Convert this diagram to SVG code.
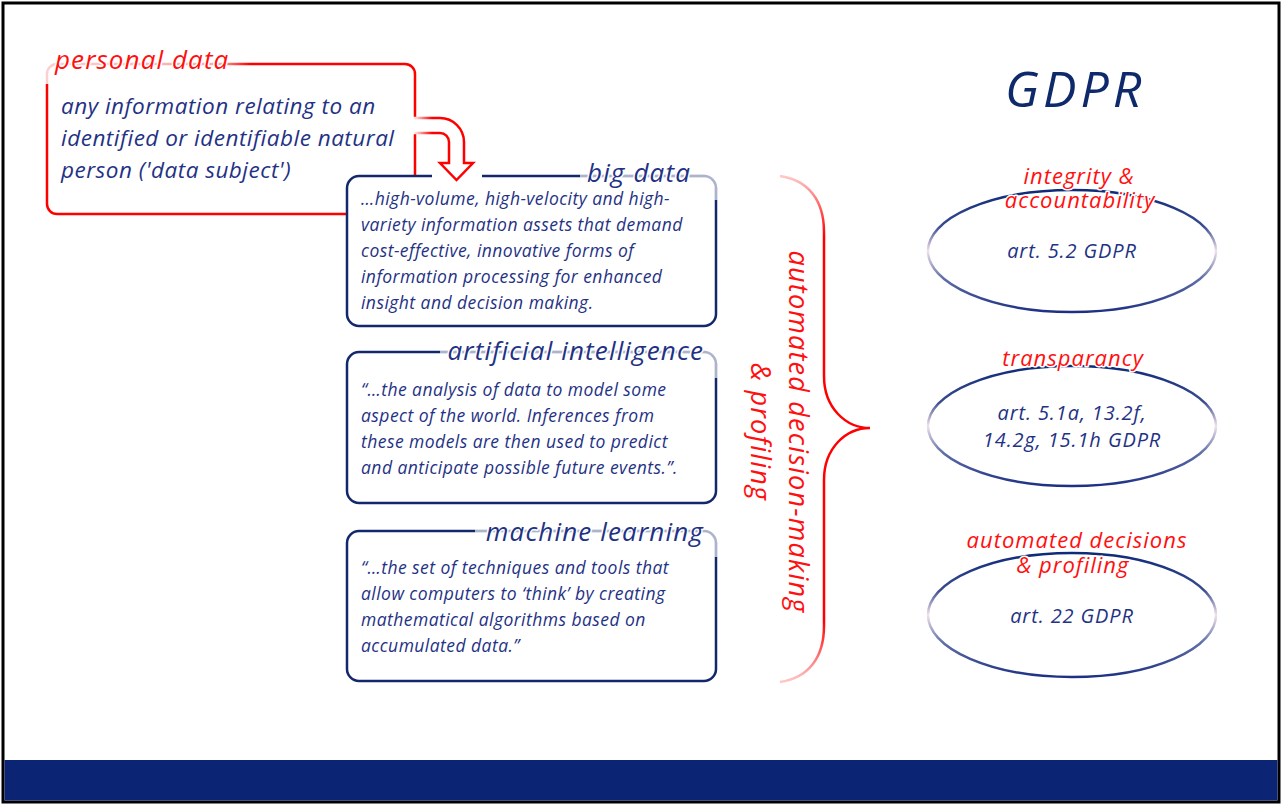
<svg xmlns="http://www.w3.org/2000/svg" width="1282" height="805" viewBox="0 0 1282 805">
<defs>
<style>
text{font-family:"Open Sans","Noto Sans","DejaVu Sans",sans-serif;font-style:italic}
.body{fill:#1f3284;font-size:17.5px;letter-spacing:0.45px}
.pbody{fill:#1f3284;font-size:22.5px;letter-spacing:0.5px}
.ttl{fill:#1f3284;font-size:26px;letter-spacing:1.15px;stroke:#fff;stroke-width:3;paint-order:stroke;stroke-linejoin:round}
.rttl{fill:#ff1010;font-size:26px;letter-spacing:1.1px;stroke:#fff;stroke-width:3;paint-order:stroke;stroke-linejoin:round}
.box{fill:#fff;stroke:#13286c;stroke-width:2.5}
.fade{fill:none;stroke:#fff;stroke-width:3.5;stroke-opacity:0.65}
.elab{fill:#ff1010;font-size:22px;letter-spacing:1px;text-anchor:middle;stroke:#fff;stroke-width:3;paint-order:stroke;stroke-linejoin:round}
.eart{fill:#1f3284;font-size:20px;letter-spacing:0.9px;text-anchor:middle}
.ell{fill:none;stroke:url(#eg);stroke-width:2.5}
.vt{fill:#ff1010;font-size:27px;letter-spacing:1.2px;text-anchor:middle}
</style>
<linearGradient id="eg" x1="0" y1="0" x2="0" y2="1">
<stop offset="0" stop-color="#0e2a78"/>
<stop offset="0.3" stop-color="#3a4c90"/>
<stop offset="0.5" stop-color="#f2e2ea"/>
<stop offset="0.72" stop-color="#6070a8"/>
<stop offset="1" stop-color="#1e3084"/>
</linearGradient>
<linearGradient id="ag" gradientUnits="userSpaceOnUse" x1="413" y1="0" x2="432" y2="0">
<stop offset="0" stop-color="#fff"/>
<stop offset="1" stop-color="#ff0000"/>
</linearGradient>
<linearGradient id="bg" gradientUnits="userSpaceOnUse" x1="0" y1="176" x2="0" y2="682">
<stop offset="0" stop-color="#ffc8c8"/>
<stop offset="0.12" stop-color="#ff0000"/>
<stop offset="0.88" stop-color="#ff0000"/>
<stop offset="1" stop-color="#ffc8c8"/>
</linearGradient>
<linearGradient id="pg" gradientUnits="userSpaceOnUse" x1="47" y1="0" x2="250" y2="0">
<stop offset="0" stop-color="#fbd0d0"/>
<stop offset="0.85" stop-color="#f6a8a8"/>
<stop offset="1" stop-color="#ff0000"/>
</linearGradient>
</defs>
<rect x="0" y="0" width="1282" height="805" fill="#fff"/>
<rect x="3" y="3" width="1276" height="799" fill="none" stroke="#000" stroke-width="3"/>
<rect x="4.5" y="760" width="1273" height="40.5" fill="#0c2474"/>

<g id="personal-data">
<path d="M250 64 H405 A10 10 0 0 1 415 74 V176" fill="none" stroke="#ff0000" stroke-width="2.5"/>
<path d="M347 214 H57 A10 10 0 0 1 47 204 V84" fill="none" stroke="#ff0000" stroke-width="2.5"/>
<path d="M47 84 V74 A10 10 0 0 1 57 64 H250" fill="none" stroke="url(#pg)" stroke-width="2.5"/>
<text class="rttl" x="55" y="69">personal data</text>
<text class="pbody" x="61" y="114">any information relating to an</text>
<text class="pbody" x="61" y="146">identified or identifiable natural</text>
<text class="pbody" x="61" y="178">person ('data subject')</text>
</g>

<g id="big-data">
<rect class="box" x="347" y="176" width="369" height="150" rx="12"/>
<path class="fade" d="M580 176 H704 A12 12 0 0 1 716 188 V200"/>
<path d="M432 176 H482" stroke="#fff" stroke-width="4"/>
<text class="ttl" x="691" y="182" text-anchor="end">big data</text>
<text class="body" x="361" y="205">…high-volume, high-velocity and high-</text>
<text class="body" x="361" y="231">variety information assets that demand</text>
<text class="body" x="361" y="257">cost-effective, innovative forms of</text>
<text class="body" x="361" y="283">information processing for enhanced</text>
<text class="body" x="361" y="309">insight and decision making.</text>
</g>

<g id="artificial-intelligence">
<rect class="box" x="347" y="352" width="369" height="151" rx="12"/>
<path class="fade" d="M440 352 H704 A12 12 0 0 1 716 364 V378"/>
<text class="ttl" x="704" y="360" text-anchor="end">artificial intelligence</text>
<text class="body" x="361" y="396">“…the analysis of data to model some</text>
<text class="body" x="361" y="422">aspect of the world. Inferences from</text>
<text class="body" x="361" y="448">these models are then used to predict</text>
<text class="body" x="361" y="474">and anticipate possible future events.”.</text>
</g>

<g id="machine-learning">
<rect class="box" x="347" y="531" width="369" height="150" rx="12"/>
<path class="fade" d="M475 531 H704 A12 12 0 0 1 716 543 V557"/>
<text class="ttl" x="704" y="541" text-anchor="end">machine learning</text>
<text class="body" x="361" y="574">“…the set of techniques and tools that</text>
<text class="body" x="361" y="600">allow computers to ‘think’ by creating</text>
<text class="body" x="361" y="626">mathematical algorithms based on</text>
<text class="body" x="361" y="652">accumulated data.”</text>
</g>

<g id="connectors">
<path d="M413 118 H440 A24 24 0 0 1 464 142 V163 H473 L456.5 180 L440 163 H449 V142 A9 9 0 0 0 440 133 H413" fill="#fff" stroke="url(#ag)" stroke-width="2.5" stroke-linejoin="miter"/>
<path d="M780 176 C808 180 824 200 824 232 V376 C824 408 846 428 870 428 C846 428 824 448 824 480 V626 C824 658 808 678 780 682" fill="none" stroke="url(#bg)" stroke-width="2.5"/>
</g>

<g id="brace-label">
<g transform="translate(789 432) rotate(90)">
<text class="vt" x="0" y="0">automated decision-making</text>
<text class="vt" x="0" y="38">&amp; profiling</text>
</g>
</g>

<g id="gdpr-title">
<text x="1005" y="107" style="fill:#0e2a6b;font-size:50px;letter-spacing:4px">GDPR</text>
</g>

<g id="integrity">
<ellipse class="ell" cx="1072" cy="251" rx="144" ry="61"/>
<text class="elab" x="1079" y="184">integrity &amp;</text>
<text class="elab" x="1080" y="208">accountability</text>
<text class="eart" x="1072" y="258">art. 5.2 GDPR</text>
</g>

<g id="transparancy">
<ellipse class="ell" cx="1072" cy="426" rx="144" ry="60"/>
<text class="elab" x="1073" y="366">transparancy</text>
<text class="eart" x="1072" y="420">art. 5.1a, 13.2f,</text>
<text class="eart" x="1072" y="447">14.2g, 15.1h GDPR</text>
</g>

<g id="automated-decisions">
<ellipse class="ell" cx="1072" cy="615" rx="144" ry="62"/>
<text class="elab" x="1077" y="548">automated decisions</text>
<text class="elab" x="1073" y="573">&amp; profiling</text>
<text class="eart" x="1072" y="623">art. 22 GDPR</text>
</g>
</svg>
